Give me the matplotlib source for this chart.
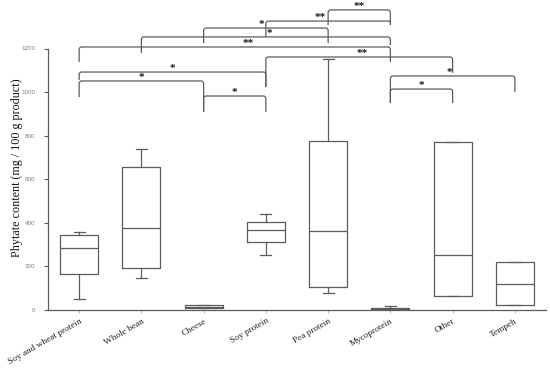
import matplotlib
matplotlib.use("Agg")
import matplotlib.pyplot as plt
import matplotlib.patches as mpatches
from matplotlib.path import Path

categories = ["Soy and wheat protein", "Whole bean", "Cheese", "Soy protein",
              "Pea protein", "Mycoprotein", "Other", "Tempeh"]
whislo = [50, 145, 8, 251, 80, 1, 63, 23]
q1 = [165, 194, 8, 312, 105, 2, 63, 23]
med = [283, 375, 15, 366, 362, 5, 254, 121]
q3 = [343, 655, 22, 402, 774, 9, 772, 219]
whishi = [358, 737, 22, 442, 1150, 18, 772, 219]

# significance comparisons (1-based category index)
pair_left = [5, 4, 3, 2, 1, 4, 1, 1, 3, 6, 6]
pair_right = [6, 6, 5, 6, 6, 7, 4, 3, 4, 8, 7]
signif = ["**", "**", "*", "*", "**", "**", "*", "*", "*", "*", "*"]

# bracket layout (data units)
br_top = [1377, 1326, 1294, 1253, 1207, 1161, 1092, 1051, 982, 1074, 1014]
br_legl = [1308, 1253, 1225, 1179, 1138, 1023, 1055, 977, 909, 950, 950]
br_legr = [1321, 1308, 1225, 1216, 1138, 1088, 1023, 909, 909, 1000, 950]
star_dx = [0, -0.13, -0.08, 0.06, 0.21, 0.05, 0, 0, 0, -0.06, 0]

LC = "#5c5c5c"


def add_bracket(ax, x1, x2, y, yl, yr, rx=0.04, ry=12):
    verts = [(x1, yl), (x1, y - ry), (x1, y), (x1 + rx, y),
             (x2 - rx, y), (x2, y), (x2, y - ry), (x2, yr)]
    codes = [Path.MOVETO, Path.LINETO, Path.CURVE3, Path.CURVE3,
             Path.LINETO, Path.CURVE3, Path.CURVE3, Path.LINETO]
    pp = mpatches.PathPatch(Path(verts, codes), fc="none", ec=LC, lw=0.9,
                            transform=ax.transData, clip_on=False)
    ax.add_patch(pp)


fig = plt.figure(figsize=(5.5, 3.7), dpi=100)
ax = fig.add_axes([48 / 550, 60 / 370, 498 / 550, 261.5 / 370])

stats = []
for i, name in enumerate(categories):
    stats.append(dict(label=name, whislo=whislo[i], q1=q1[i], med=med[i],
                      q3=q3[i], whishi=whishi[i], fliers=[]))

line_kw = dict(color=LC, linewidth=0.9)
ax.bxp(stats, positions=range(1, len(categories) + 1), widths=0.61,
       capwidths=0.18, showfliers=False,
       boxprops=line_kw, medianprops=line_kw, whiskerprops=line_kw,
       capprops=line_kw)

for i in range(len(signif)):
    a, b = pair_left[i], pair_right[i]
    add_bracket(ax, a, b, br_top[i], br_legl[i], br_legr[i])
    ax.text((a + b) / 2 + star_dx[i], br_top[i] + 3, signif[i],
            ha="center", va="baseline", fontsize=8, fontweight="bold",
            color="#1a1a1a", fontfamily="Liberation Serif", clip_on=False)

ax.set_xlim(0.5, 8.5)
ax.set_ylim(0, 1200)
ax.set_yticks(range(0, 1201, 200))
ax.spines["top"].set_visible(False)
ax.spines["right"].set_visible(False)
for s in ("left", "bottom"):
    ax.spines[s].set_color(LC)
    ax.spines[s].set_linewidth(0.9)

ax.tick_params(axis="y", length=3, width=0.8, color=LC, labelsize=4.5,
               labelcolor="#808080", pad=6)
ax.tick_params(axis="x", length=2, width=0.6, color="#aaaaaa", pad=3)
ax.set_xticks(range(1, len(categories) + 1))
ax.set_xticklabels(categories, rotation=30, ha="right",
                   rotation_mode="anchor", fontsize=6.7,
                   fontfamily="Liberation Serif", color="#222222")
for lab in ax.get_yticklabels():
    lab.set_fontfamily("Liberation Sans")

fig.text(17 / 550, 0.546, "Phytate content (mg / 100 g product)",
         rotation=90, ha="center", va="center", fontsize=8.7,
         fontfamily="Liberation Serif", color="#111111")

fig.savefig("out.png", dpi=100)
